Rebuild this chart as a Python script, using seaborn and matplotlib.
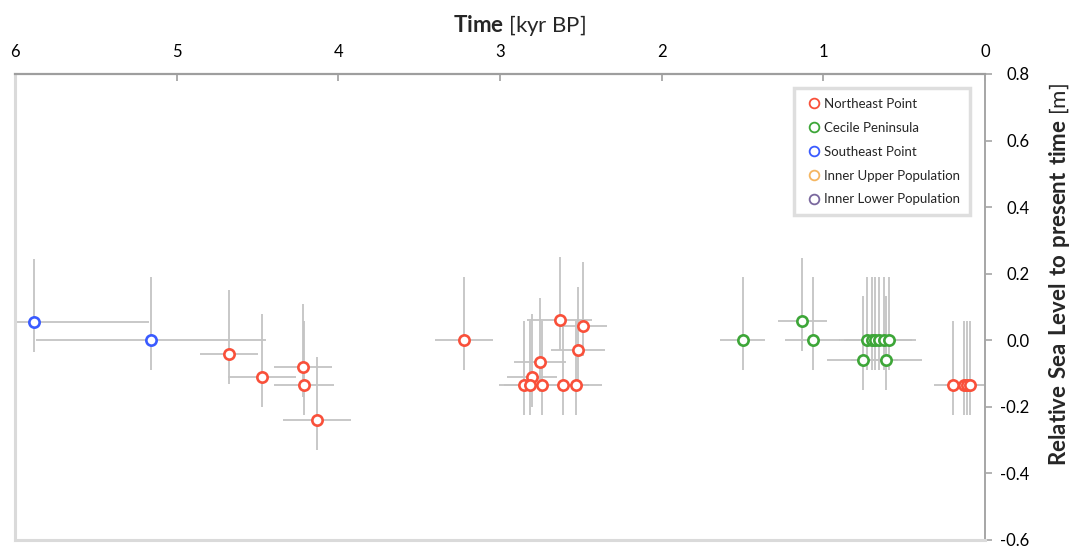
import matplotlib
matplotlib.use("Agg")
import matplotlib.pyplot as plt
from matplotlib.lines import Line2D
import seaborn as sns
import pandas as pd

# Sample ages (kyr BP), relative sea level (m) and age uncertainty (kyr)
ne_age = [4.675, 4.47, 4.22, 4.21, 4.13, 3.225, 2.63, 2.486, 2.517, 2.754, 2.80,
          2.849, 2.816, 2.738, 2.612, 2.531, 0.196, 0.128, 0.109, 0.093]
ne_rsl = [-0.04, -0.11, -0.08, -0.133, -0.24, 0.0, 0.06, 0.044, -0.03, -0.064, -0.11,
          -0.133, -0.133, -0.133, -0.133, -0.133, -0.133, -0.133, -0.133, -0.133]
ne_age_err = [0.18, 0.21, 0.18, 0.185, 0.21, 0.18, 0.20, 0.15, 0.167, 0.162, 0.155,
              0.16, 0.16, 0.16, 0.16, 0.16, 0.12, 0.12, 0.12, 0.12]

cp_age = [1.50, 1.13, 1.066, 0.732, 0.701, 0.679, 0.654, 0.623, 0.594, 0.756, 0.610]
cp_rsl = [0.0, 0.057, 0.0, 0.0, 0.0, 0.0, 0.0, 0.0, 0.0, -0.058, -0.058]
cp_age_err = [0.14, 0.15, 0.17, 0.17, 0.17, 0.17, 0.17, 0.17, 0.17, 0.22, 0.22]

se_age = [5.88, 5.16]
se_rsl = [0.055, 0.0]
se_age_err = [0.71, 0.71]

# Vertical (sea-level) uncertainty, below / above each point (m)
RSL_ERR_BELOW = 0.09
RSL_ERR_ABOVE = 0.19

groups = ["Northeast Point", "Cecile Peninsula", "Southeast Point",
          "Inner Upper Population", "Inner Lower Population"]
colors = ["#F9503A", "#3DA638", "#3A5BFF", "#F5B660", "#7A689E"]

frames = []
for name, age, rsl, err in [("Northeast Point", ne_age, ne_rsl, ne_age_err),
                            ("Cecile Peninsula", cp_age, cp_rsl, cp_age_err),
                            ("Southeast Point", se_age, se_rsl, se_age_err)]:
    frames.append(pd.DataFrame({"age": age, "rsl": rsl, "age_err": err, "site": name}))
df = pd.concat(frames, ignore_index=True)

sns.set_style("white")
plt.rcParams["font.family"] = ["Lato", "DejaVu Sans"]
plt.rcParams["mathtext.fontset"] = "custom"
plt.rcParams["mathtext.rm"] = "Lato"
plt.rcParams["mathtext.bf"] = "Lato:bold"

fig = plt.figure(figsize=(10.75, 5.49), dpi=100)
ax = fig.add_axes([15 / 1075, 1 - 540 / 549, 970 / 1075, 466 / 549])

# Error bars
ax.errorbar(df["age"], df["rsl"], xerr=df["age_err"],
            yerr=[[RSL_ERR_BELOW] * len(df), [RSL_ERR_ABOVE] * len(df)],
            fmt="none", ecolor="#C4C4C4", elinewidth=1.3, capsize=0, zorder=2)

# Open circle markers
palette = dict(zip(groups, colors))
for site in df["site"].unique():
    sub = df[df["site"] == site]
    sns.scatterplot(data=sub, x="age", y="rsl", ax=ax, marker="o", s=55,
                    facecolor="white", edgecolor=palette[site], linewidth=1.9,
                    zorder=3, legend=False)

ax.set_xlim(6, 0)
ax.set_ylim(-0.6, 0.8)
ax.set_xticks([6, 5, 4, 3, 2, 1, 0])
ax.set_yticks([-0.6, -0.4, -0.2, 0.0, 0.2, 0.4, 0.6, 0.8])
ax.set_yticklabels(["-0.6", "-0.4", "-0.2", "0.0", "0.2", "0.4", "0.6", "0.8"])
ax.set_ylabel("")

ax.xaxis.tick_top()
ax.xaxis.set_label_position("top")
ax.yaxis.tick_right()

ax.tick_params(axis="x", top=True, bottom=False, direction="in", length=5,
               width=1.2, color="#9E9E9E", labelsize=12, pad=10, labelcolor="black")
ax.tick_params(axis="y", right=True, left=False, direction="out", length=5,
               width=1.2, color="#A6A6A6", labelsize=12, pad=27, labelcolor="black")
for lab in ax.get_yticklabels():
    lab.set_horizontalalignment("right")

for side in ["left", "bottom"]:
    ax.spines[side].set_color("#DADADA")
    ax.spines[side].set_linewidth(2.2)
ax.spines["top"].set_color("#9E9E9E")
ax.spines["top"].set_linewidth(1.6)
ax.spines["right"].set_color("#A6A6A6")
ax.spines["right"].set_linewidth(1.4)

ax.set_xlabel(r"$\mathbf{Time}$ [kyr BP]", fontsize=16)
ax.xaxis.set_label_coords(0.52, 1.09)

fig.text(1060 / 1075, 1 - 274 / 549,
         r"$\mathbf{Relative\ Sea\ Level\ to\ present\ time}$ [m]",
         fontsize=16, rotation=90, ha="center", va="center")

handles = [Line2D([], [], linestyle="none", marker="o", markersize=7,
                  markerfacecolor="white", markeredgecolor=c, markeredgewidth=1.3)
           for c in colors]
leg = ax.legend(handles, groups, loc="upper right", bbox_to_anchor=(0.9845, 0.970),
                borderaxespad=0, fontsize=9.5, frameon=True, fancybox=False,
                handlelength=1.5, handletextpad=0.05, labelspacing=0.9,
                borderpad=0.75, edgecolor="#D6D6D6")
leg.get_frame().set_linewidth(2.5)

fig.savefig("out.png", dpi=100, facecolor="white")
